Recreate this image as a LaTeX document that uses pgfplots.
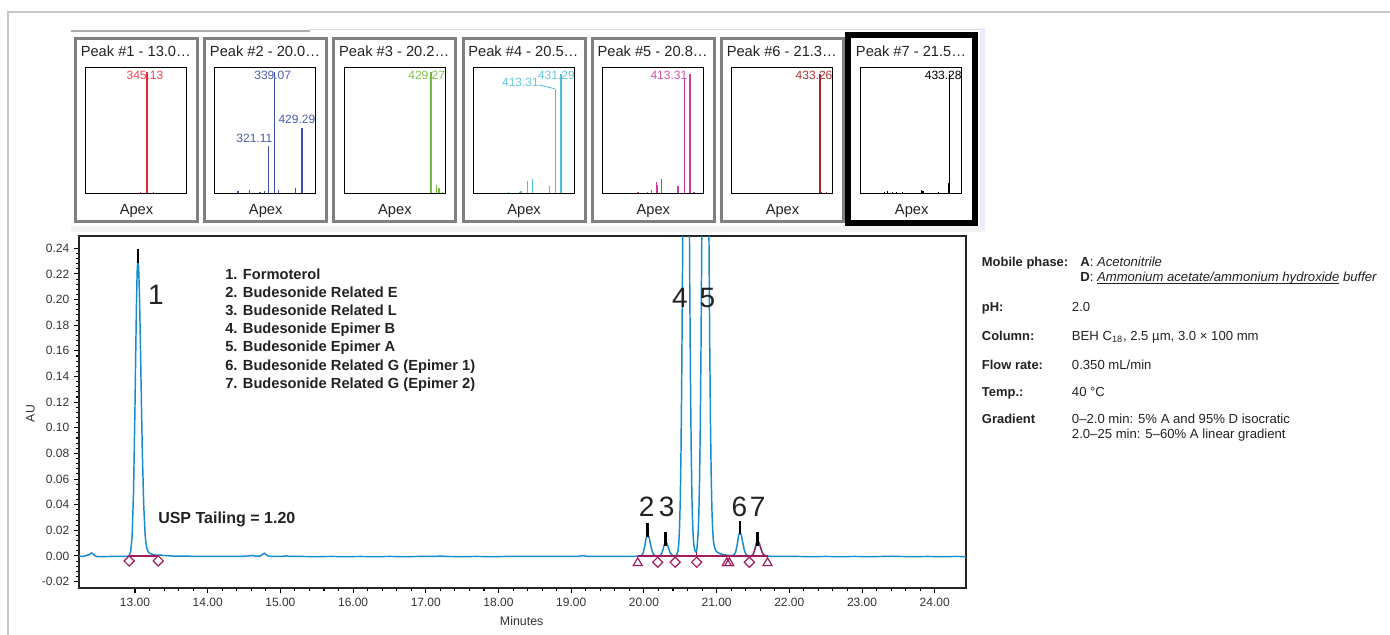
\documentclass[border=0pt]{standalone}
\usepackage{fontspec}
\setmainfont{Liberation Sans}
\usepackage{pgfplots}
\pgfplotsset{compat=1.18}
\definecolor{trace}{RGB}{20,140,205}
\definecolor{integ}{RGB}{163,25,91}
\definecolor{framegray}{RGB}{128,128,128}
\definecolor{txt}{RGB}{34,34,34}
\definecolor{ticktxt}{RGB}{51,51,51}
\definecolor{c1}{RGB}{232,40,50}\definecolor{c1l}{RGB}{240,70,80}
\definecolor{c2}{RGB}{60,80,165}\definecolor{c2l}{RGB}{75,95,170}
\definecolor{c3}{RGB}{110,190,60}\definecolor{c3l}{RGB}{125,195,75}
\definecolor{c4}{RGB}{80,190,215}\definecolor{c4l}{RGB}{100,200,220}
\definecolor{c5}{RGB}{200,60,160}\definecolor{c5l}{RGB}{205,80,170}
\definecolor{c6}{RGB}{165,35,45}\definecolor{c6l}{RGB}{170,50,55}
\newcommand\ul[1]{\setbox0\hbox{#1}\rlap{\rule[-2.3pt]{\wd0}{0.7pt}}\box0\relax}
\pgfplotsset{
  mini/.style={scale only axis, width=75.75pt, height=94.5pt, xmin=145, xmax=475, ymin=0, ymax=100,
    xtick=\empty, ytick=\empty, axis line style={black, line width=0.75pt}, clip=false, anchor=south west},
}
\tikzset{lab/.style={font=\fontsize{9}{10}\selectfont, inner sep=0pt, anchor=base}}
\begin{document}
\begin{tikzpicture}[x=0.75pt,y=-0.75pt]
\useasboundingbox (0,0) rectangle (1390,635);
% outer frame and strip
\draw[gray!45, line width=1.5pt] (8,635) -- (8,12) -- (1390,12);
\draw[gray!65, line width=1.5pt] (71,31) -- (310,31);
\draw[gray!30, line width=0.75pt] (310,29.5) -- (983,29.5);
\fill[gray!10] (71,226) rectangle (985,232);
\fill[blue!8!white] (980,28) rectangle (985,230);
% panel frames
\foreach \x in {74,203.2,332.4,461.6,590.8,720}{
  \draw[framegray, line width=2.25pt] (\x+1.5,38.8) rectangle (\x+123.5,221.8);
}
\draw[black, line width=4.5pt] (848.2,35.5) rectangle (974.8,223.4);
% titles and Apex
\foreach \x/\t in {74/{Peak \#1 - 13.0…},203.2/{Peak \#2 - 20.0…},332.4/{Peak \#3 - 20.2…},461.6/{Peak \#4 - 20.5…},590.8/{Peak \#5 - 20.8…},720/{Peak \#6 - 21.3…},849.2/{Peak \#7 - 21.5…}}{
  \node[anchor=base west, inner sep=0pt, text=txt, font=\fontsize{11}{12}\selectfont] at (\x+6.5,56.7) {\t};
  \node[anchor=base, inner sep=0pt, text=txt, font=\fontsize{11}{12}\selectfont] at (\x+62.5,214.3) {Apex};
}
\coordinate (p1) at (85.7,193.3);
\coordinate (p2) at (214.9,193.3);
\coordinate (p3) at (344.1,193.3);
\coordinate (p4) at (473.3,193.3);
\coordinate (p5) at (602.5,193.3);
\coordinate (p6) at (731.7,193.3);
\coordinate (p7) at (860.9,193.3);
\begin{axis}[mini, at={(p1)}]
\addplot[ycomb, c1, line width=1pt] coordinates {(345.13,96) (325,1) (366,1)};
\node[lab, text=c1l] at (axis cs:338.7,90.7) {345.13};
\end{axis}
\begin{axis}[mini, at={(p2)}]
\addplot[ycomb, c2, line width=1pt] coordinates {(339.07,96) (321.11,37.5) (429.29,52) (220,2.1) (258,3) (292.5,1.3) (306.7,2) (352,2.5) (409,4) (427,1)};
\node[lab, text=c2l] at (axis cs:333.8,90.7) {339.07};
\node[lab, text=c2l] at (axis cs:274,40) {321.11};
\node[lab, text=c2l] at (axis cs:413,55.2) {429.29};
\end{axis}
\begin{axis}[mini, at={(p3)}]
\addplot[ycomb, c3, line width=1pt] coordinates {(429.27,96) (447.6,6.6) (455.2,4) (467.4,1.3)};
\node[lab, text=c3l] at (axis cs:415,90.7) {429.27};
\end{axis}
\begin{axis}[mini, at={(p4)}]
\addplot[ycomb, c4, line width=1pt] coordinates {(431.29,95) (413.31,82.5) (261,0.8) (297,1) (301,2) (321,9.8) (338.3,11.1) (394.7,5.8)};
\addplot[c4, line width=0.6pt] coordinates {(359,86) (411,83)};
\node[lab, text=c4l] at (axis cs:416.4,90.7) {431.29};
\node[lab, text=c4l] at (axis cs:299,85) {413.31};
\end{axis}
\begin{axis}[mini, at={(p5)}]
\addplot[ycomb, c5, line width=1pt] coordinates {(413.31,91) (431.3,95) (261,0.8) (291,1.3) (304,2.6) (320.5,9.3) (324,6.6) (337,11.1) (391.8,5.8) (444,0.8)};
\node[lab, text=c5l] at (axis cs:362,90.7) {413.31};
\end{axis}
\begin{axis}[mini, at={(p6)}]
\addplot[ycomb, c6, line width=1pt] coordinates {(433.26,95) (437,1) (454,1)};
\node[lab, text=c6l] at (axis cs:414,90.7) {433.26};
\end{axis}
\begin{axis}[mini, at={(p7)}]
\addplot[ycomb, black, line width=0.9pt] coordinates {(433.28,95) (222.5,1) (231.4,1.5) (248,1) (262.4,1) (281,0.8) (342,2.5) (347.7,1.5) (399.7,1)};
\addplot[ycomb, black, line width=1.6pt] coordinates {(433.28,8)};
\node[lab, text=black] at (axis cs:414,90.7) {433.28};
\end{axis}
% main chromatogram
\coordinate (mainsw) at (79,588);
\begin{axis}[at={(mainsw)}, anchor=south west, scale only axis, width=665.25pt, height=264pt,
  xmin=12.23, xmax=24.43, ymin=-0.025, ymax=0.2496,
  xtick={13,14,15,16,17,18,19,20,21,22,23,24}, minor x tick num=4,
  ytick={-0.02,0,0.02,0.04,0.06,0.08,0.10,0.12,0.14,0.16,0.18,0.20,0.22,0.24}, minor y tick num=4,
  tick align=outside, tick pos=left,
  major tick length=3.75pt, minor tick length=2.25pt,
  every tick/.style={black, line width=0.8pt},
  axis line style={black!85, line width=1pt},
  /pgf/number format/assume math mode=true,
  ticklabel style={font=\fontsize{9}{10}\selectfont, text=ticktxt},
  xticklabel style={/pgf/number format/.cd, fixed, fixed zerofill, precision=2},
  yticklabel style={/pgf/number format/.cd, fixed, fixed zerofill, precision=2},
  scaled ticks=false,
]
\addplot[trace, line width=1.1pt] coordinates {
(12.23,0.0000) (12.26,-0.0004) (12.30,-0.0002) (12.34,0.0006) (12.37,0.0009) (12.40,0.0024) (12.42,0.0018) (12.45,0.0002) (12.48,-0.0005) (12.55,-0.0005) (12.65,-0.0004) (12.75,-0.0004) (12.85,-0.0003) (12.90,-0.0002)
(12.92,0.0002) (12.94,0.0031) (12.96,0.0145) (12.98,0.0489) (13.00,0.1161) (13.01,0.1572) (13.02,0.1952) (13.03,0.2222) (13.04,0.2320) (13.05,0.2255) (13.06,0.2071) (13.07,0.1798) (13.08,0.1474) (13.10,0.0836) (13.12,0.0400) (13.14,0.0160) (13.16,0.0065) (13.18,0.0035) (13.20,0.0022) (13.25,0.0010) (13.30,0.0005) (13.35,0.0007) (13.40,0.0004) (13.50,0.0000)
(13.60,-0.0002) (13.70,-0.0001) (13.80,-0.0003) (13.90,-0.0003) (14.00,-0.0004) (14.10,-0.0003) (14.20,-0.0004) (14.30,-0.0003) (14.40,-0.0004) (14.50,-0.0002) (14.58,0.0001) (14.62,0.0004) (14.66,-0.0002) (14.72,-0.0001) (14.76,0.0014) (14.78,0.0021) (14.80,0.0012) (14.83,0.0000) (14.88,-0.0004) (14.95,-0.0003) (15.05,-0.0002) (15.08,0.0002) (15.12,-0.0003) (15.30,-0.0004) (15.50,-0.0005) (15.70,-0.0004) (15.90,-0.0005) (16.10,-0.0004) (16.30,-0.0005) (16.50,-0.0004) (16.70,-0.0005) (16.90,-0.0004) (17.10,-0.0004) (17.20,-0.0001) (17.30,-0.0004) (17.50,-0.0005) (17.70,-0.0004) (17.90,-0.0005) (18.10,-0.0004) (18.30,-0.0004) (18.50,-0.0004) (18.70,-0.0003) (18.90,-0.0004) (19.10,-0.0003) (19.16,0.0002) (19.22,-0.0003) (19.40,-0.0004) (19.60,-0.0004) (19.80,-0.0003) (19.90,-0.0002)
(19.93,0.0000) (19.95,0.0002) (19.97,0.0006) (19.99,0.0024) (20.01,0.0071) (20.03,0.0137) (20.05,0.0170) (20.07,0.0147) (20.09,0.0093) (20.11,0.0043) (20.13,0.0015) (20.15,0.0005) (20.17,0.0001) (20.20,0.0000)
(20.22,0.0003) (20.24,0.0015) (20.26,0.0045) (20.28,0.0088) (20.30,0.0110) (20.32,0.0094) (20.34,0.0059) (20.36,0.0028) (20.38,0.0010) (20.40,0.0003) (20.43,0.0002)
(20.45,0.0007) (20.47,0.0043) (20.48,0.0101) (20.49,0.0220) (20.50,0.0440) (20.51,0.0812) (20.52,0.1380) (20.53,0.2160) (20.54,0.3120) (20.56,0.5100) (20.58,0.6000) (20.60,0.5100) (20.62,0.3120) (20.63,0.2160) (20.64,0.1390) (20.65,0.0850) (20.66,0.0470) (20.67,0.0250) (20.68,0.0130) (20.69,0.0075) (20.70,0.0045) (20.71,0.0034) (20.72,0.0030)
(20.73,0.0060) (20.745,0.0170) (20.755,0.0320) (20.765,0.0580) (20.775,0.1000) (20.785,0.1610) (20.795,0.2410) (20.805,0.3345) (20.825,0.5180) (20.845,0.6000) (20.865,0.5180) (20.885,0.3350) (20.895,0.2450) (20.905,0.1660) (20.915,0.1060) (20.925,0.0640) (20.935,0.0370) (20.945,0.0210) (20.955,0.0120) (20.97,0.0070) (20.99,0.0040) (21.02,0.0025) (21.06,0.0015) (21.10,0.0010) (21.15,0.0005) (21.20,0.0003)
(21.22,0.0005) (21.24,0.0009) (21.26,0.0026) (21.28,0.0078) (21.30,0.0152) (21.32,0.0190) (21.34,0.0163) (21.36,0.0103) (21.38,0.0047) (21.40,0.0016) (21.42,0.0005) (21.44,0.0001) (21.465,0.0000)
(21.485,0.0003) (21.505,0.0016) (21.525,0.0049) (21.545,0.0096) (21.565,0.0120) (21.585,0.0103) (21.605,0.0065) (21.625,0.0030) (21.645,0.0010) (21.665,0.0003) (21.69,0.0000)
(21.75,-0.0003) (21.90,-0.0004) (22.10,-0.0004) (22.30,-0.0005) (22.50,-0.0004) (22.70,-0.0005) (22.90,-0.0004) (23.10,-0.0005) (23.30,-0.0004) (23.40,-0.0002) (23.50,-0.0004) (23.70,-0.0005) (23.90,-0.0004) (24.10,-0.0005) (24.30,-0.0004) (24.43,-0.0005)
};
% integration
\addplot[integ, line width=0.9pt] coordinates {(12.92,0) (13.32,0)};
\addplot[integ, line width=0.9pt] coordinates {(19.915,0) (21.70,0)};
\addplot[integ, line width=0.9pt] coordinates {(20.726,0) (20.726,0.003)};
\addplot[integ, line width=0.9pt] coordinates {(21.485,0.0003) (21.505,0.0016) (21.525,0.0049) (21.545,0.0096) (21.565,0.0120) (21.585,0.0103) (21.605,0.0065) (21.625,0.0030) (21.645,0.0010) (21.665,0.0003)};
\addplot[only marks, mark=square, mark size=2.7pt, mark options={rotate=45, integ, line width=0.9pt, fill=none}] coordinates {(12.92,-0.0039) (13.32,-0.0039) (20.19,-0.0049) (20.43,-0.0049) (20.726,-0.0049) (21.45,-0.0049)};
\addplot[only marks, mark=triangle, mark size=3.9pt, mark options={integ, line width=0.9pt, fill=none}] coordinates {(19.915,-0.0055) (21.14,-0.0055) (21.175,-0.0055) (21.70,-0.0055)};
% apex markers
\addplot[black, line width=1.9pt] coordinates {(13.04,0.2285) (13.04,0.2395)};
\addplot[black, line width=1.9pt] coordinates {(20.05,0.0150) (20.05,0.0255)};
\addplot[black, line width=1.9pt] coordinates {(20.30,0.0080) (20.30,0.0185)};
\addplot[black, line width=1.9pt] coordinates {(21.32,0.0170) (21.32,0.0275)};
\addplot[black, line width=1.9pt] coordinates {(21.565,0.0080) (21.565,0.0185)};
\end{axis}
% axis labels
\node[rotate=90, text=ticktxt, font=\fontsize{9.2}{10}\selectfont] at (30.5,413.5) {AU};
\node[text=ticktxt, font=\fontsize{9.3}{10}\selectfont] at (521.7,620.7) {Minutes};
% peak numbers
\foreach \xx/\yy/\t in {156/295/1,680/298.3/4,707.3/298.3/5,646.7/506.7/2,666.7/506.7/3,739.3/506.7/6,757.7/506.7/7}{
  \node[text=txt, inner sep=0pt, font=\fontsize{21}{24}\selectfont] at (\xx,\yy) {\t};
}
% compound list
\foreach \yy/\t in {279/{1. Formoterol},297.2/{2. Budesonide Related E},315.4/{3. Budesonide Related L},333.6/{4. Budesonide Epimer B},351.8/{5. Budesonide Epimer A},370/{6. Budesonide Related G (Epimer 1)},388.2/{7. Budesonide Related G (Epimer 2)}}{
  \node[anchor=base west, inner sep=0pt, text=txt, font=\bfseries\fontsize{11}{13}\selectfont] at (225,\yy) {\t};
}
\node[anchor=base west, inner sep=0pt, text=txt, font=\bfseries\fontsize{12}{14}\selectfont] at (158,523.3) {USP Tailing = 1.20};
% conditions
\begin{scope}[every node/.style={anchor=base west, inner sep=0pt, text=txt, font=\fontsize{9.85}{11}\selectfont}]
\node[font=\bfseries\fontsize{9.7}{11}\selectfont] at (981.7,266.3) {Mobile phase:};
\node at (1080,266.3) {\textbf{A}: \textit{Acetonitrile}};
\node at (1080,281) {\textbf{D}: \ul{\textit{Ammonium acetate/ammonium hydroxide}} \textit{buffer}};
\node[font=\bfseries\fontsize{9.7}{11}\selectfont] at (981.7,311) {pH:};
\node at (1071.7,311) {2.0};
\node[font=\bfseries\fontsize{9.7}{11}\selectfont] at (981.7,340) {Column:};
\node at (1071.7,340) {BEH C\textsubscript{18}, 2.5 µm, 3.0 × 100 mm};
\node[font=\bfseries\fontsize{9.7}{11}\selectfont] at (981.7,369) {Flow rate:};
\node at (1071.7,369) {0.350 mL/min};
\node[font=\bfseries\fontsize{9.7}{11}\selectfont] at (981.7,396.7) {Temp.:};
\node at (1071.7,396.7) {40 °C};
\node[font=\bfseries\fontsize{9.7}{11}\selectfont] at (981.7,423.3) {Gradient};
\node at (1071.7,423.3) {0–2.0 min: 5\% A and 95\% D isocratic};
\node at (1071.7,438.3) {2.0–25 min: 5–60\% A linear gradient};
\end{scope}
\end{tikzpicture}
\end{document}
